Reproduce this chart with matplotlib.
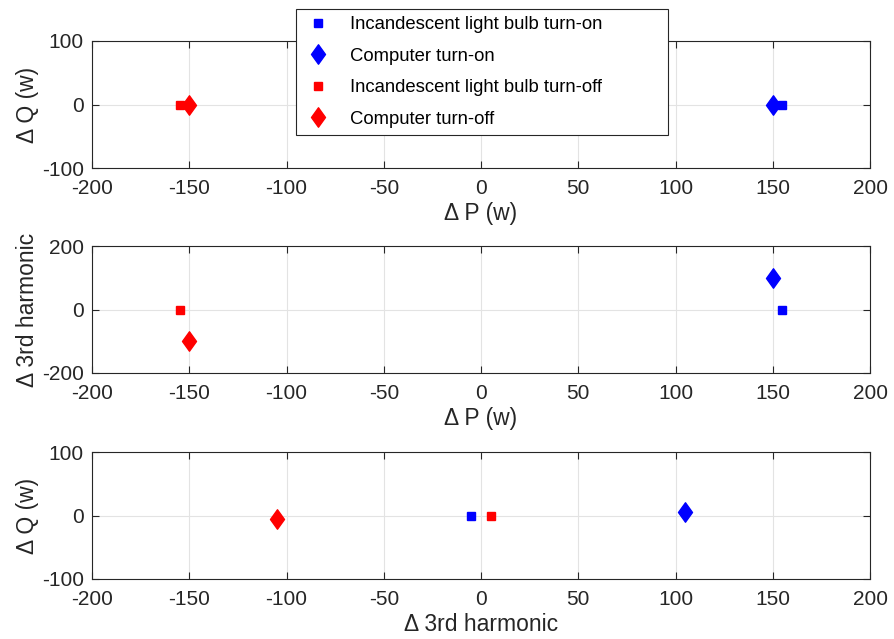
import numpy as np
import matplotlib.pyplot as plt
from matplotlib.path import Path

plt.rcParams['font.family'] = ['Liberation Sans', 'DejaVu Sans']
plt.rcParams['axes.unicode_minus'] = False

# Event signatures: (delta P, delta Q, delta 3rd harmonic)
labels = ["Incandescent light bulb turn-on", "Computer turn-on",
          "Incandescent light bulb turn-off", "Computer turn-off"]
delta_p = [155, 150, -155, -150]
delta_q = [0, 0, 0, 0]
delta_h3 = [0, 100, 0, -100]
# third panel uses its own measured pairs
h3_x = [-5, 105, 5, -105]
q_y = [0, 5, 0, -5]

colors = ["#0000ff", "#0000ff", "#ff0000", "#ff0000"]
diamond = Path([(0, 1), (0.72, 0), (0, -1), (-0.72, 0), (0, 1)],
               [Path.MOVETO, Path.LINETO, Path.LINETO, Path.LINETO, Path.CLOSEPOLY])
markers = ["s", diamond, "s", diamond]
sizes = [6, 14, 6, 14]

fig = plt.figure(figsize=(8.94, 6.39), dpi=100)
left, width = 92 / 894, 778 / 894
tops = [41, 246, 452]
height = 127 / 639
axes = [fig.add_axes([left, 1 - (t + 127) / 639, width, height]) for t in tops]

panels = [
    (delta_p, delta_q, (-100, 100), [-100, 0, 100], "\u0394 P (w)", "\u0394 Q (w)"),
    (delta_p, delta_h3, (-200, 200), [-200, 0, 200], "\u0394 P (w)", "\u0394 3rd harmonic"),
    (h3_x, q_y, (-100, 100), [-100, 0, 100], "\u0394 3rd harmonic", "\u0394 Q (w)"),
]

handles = []
for ax, (xs, ys, ylim, yticks, xl, yl) in zip(axes, panels):
    hs = []
    for x, y, c, m, s, lab in zip(xs, ys, colors, markers, sizes, labels):
        h, = ax.plot([x], [y], linestyle="none", marker=m, markersize=s,
                     color=c, markeredgecolor=c, label=lab, zorder=3)
        hs.append(h)
    if not handles:
        handles = hs
    ax.set_xlim(-200, 200)
    ax.set_ylim(*ylim)
    ax.set_xticks(np.arange(-200, 201, 50))
    ax.set_yticks(yticks)
    ax.grid(True, color="#e3e3e3", linewidth=0.8)
    ax.set_axisbelow(True)
    ax.tick_params(direction="in", length=5, width=0.8, colors="#262626",
                   labelsize=15, top=True, right=True)
    ax.tick_params(axis="x", pad=8)
    ax.tick_params(axis="y", pad=6)
    for sp in ax.spines.values():
        sp.set_color("#262626")
        sp.set_linewidth(0.8)
    ax.set_xlabel(xl, fontsize=16.5, color="#262626", labelpad=3)
    ax.set_ylabel(yl, fontsize=16.5, color="#262626", labelpad=2)

leg = fig.legend(handles=handles, loc="upper left",
                 bbox_to_anchor=(296 / 894, 1 - 9 / 639, 372 / 894, 0),
                 mode="expand", fontsize=13.3,
                 frameon=True, fancybox=False, framealpha=1, edgecolor="#262626",
                 labelspacing=0.78, handletextpad=0.9, borderpad=0.4,
                 handlelength=1.6, borderaxespad=0)
leg.get_frame().set_linewidth(0.8)

fig.savefig("out.png", dpi=100)
